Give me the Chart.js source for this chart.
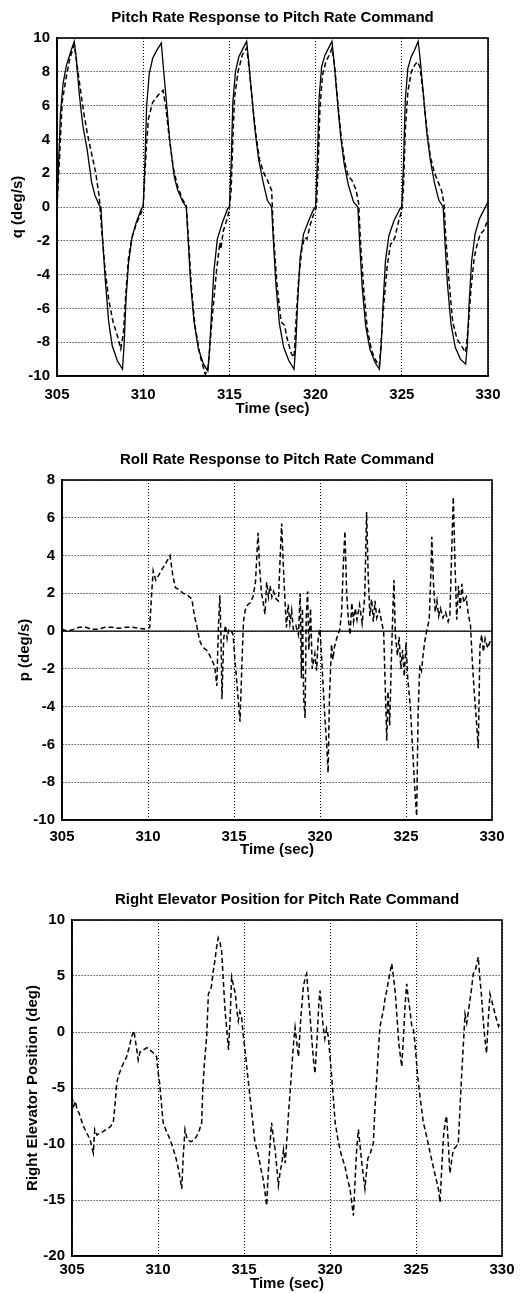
<!DOCTYPE html>
<html>
<head>
<meta charset="utf-8">
<script src="https://cdn.jsdelivr.net/npm/chart.js@4.4.1/dist/chart.umd.min.js"></script>
<style>
  body { margin: 0; background: #fff; width: 523px; height: 1293px; overflow: hidden; position: relative; }
  canvas { position: absolute; left: 0; }
</style>
</head>
<body>
<canvas id="pitch" width="523" height="430" style="top:0px"></canvas>
<canvas id="roll" width="523" height="440" style="top:430px"></canvas>
<canvas id="elev" width="523" height="423" style="top:870px"></canvas>
<script>
// tick labels
const timeTicks = [305, 310, 315, 320, 325, 330];
const qTicks = [-10, -8, -6, -4, -2, 0, 2, 4, 6, 8, 10];
const pTicks = [-10, -8, -6, -4, -2, 0, 2, 4, 6, 8];
const elevTicks = [-20, -15, -10, -5, 0, 5, 10];

// pitch rate q (deg/s), [time, value]
const qSolid = [
  [305.0,0.0],[305.1,2.8],[305.2,5.5],[305.35,7.3],[305.55,8.4],[305.8,9.2],[306.0,9.8],[306.1,9.0],[306.3,6.6],
  [306.5,4.8],[306.75,3.4],[307.0,1.5],[307.2,0.7],[307.45,0.1],[307.55,0.0],[307.65,-2.0],[307.8,-4.3],[308.0,-6.8],
  [308.2,-8.2],[308.5,-9.1],[308.8,-9.6],[308.9,-8.0],[309.0,-5.5],[309.15,-3.3],[309.35,-1.8],[309.6,-0.9],[309.9,-0.1],
  [310.0,0.0],[310.1,2.6],[310.2,6.0],[310.35,7.9],[310.55,8.8],[310.8,9.3],[311.05,9.7],[311.15,8.5],[311.35,6.2],
  [311.55,3.8],[311.8,1.8],[312.0,1.0],[312.3,0.3],[312.5,0.0],[312.6,-1.8],[312.75,-4.5],[312.95,-6.8],[313.2,-8.4],
  [313.5,-9.3],[313.75,-9.7],[313.85,-8.5],[313.95,-6.5],[314.1,-3.8],[314.3,-1.9],[314.6,-0.9],[314.9,-0.1],
  [315.0,0.0],[315.1,2.5],[315.2,6.2],[315.35,8.0],[315.55,8.9],[315.8,9.4],[316.0,9.8],[316.1,8.8],[316.3,6.6],
  [316.5,4.4],[316.7,2.8],[316.95,1.5],[317.2,0.4],[317.45,0.0],[317.55,-2.0],[317.7,-4.6],[317.9,-6.9],[318.15,-8.3],
  [318.45,-9.1],[318.75,-9.6],[318.85,-8.2],[318.95,-5.8],[319.1,-3.0],[319.3,-1.6],[319.6,-0.8],[319.9,-0.1],
  [320.0,0.0],[320.1,2.7],[320.2,6.4],[320.35,8.3],[320.55,9.0],[320.75,9.4],[320.95,9.8],[321.05,8.8],[321.25,6.5],
  [321.45,4.2],[321.65,2.6],[321.9,1.3],[322.2,0.3],[322.45,0.0],[322.55,-2.0],[322.7,-4.7],[322.9,-7.0],[323.15,-8.4],
  [323.45,-9.2],[323.7,-9.6],[323.8,-8.3],[323.9,-6.0],[324.05,-3.2],[324.25,-1.7],[324.55,-0.8],[324.9,-0.1],
  [325.0,0.0],[325.1,2.6],[325.2,6.3],[325.35,8.2],[325.55,8.9],[325.75,9.3],[325.95,9.8],[326.05,8.9],[326.25,6.7],
  [326.45,4.4],[326.65,2.8],[326.9,1.4],[327.15,0.4],[327.4,0.0],[327.5,-2.0],[327.65,-4.6],[327.85,-6.9],[328.1,-8.3],
  [328.4,-9.0],[328.7,-9.3],[328.8,-8.2],[328.9,-5.8],[329.05,-3.2],[329.25,-1.6],[329.5,-0.7],[329.8,-0.1],[330.0,0.3]
];
const qDashed = [
  [305.0,0.0],[305.15,3.0],[305.3,6.2],[305.5,7.5],[305.75,8.8],[306.0,9.6],[306.15,8.5],[306.35,7.0],[306.55,5.6],
  [306.75,4.4],[307.0,3.2],[307.25,2.0],[307.45,0.6],[307.6,-1.5],[307.8,-3.8],[308.0,-5.5],[308.25,-6.8],[308.5,-7.6],
  [308.7,-8.4],[308.85,-7.5],[309.0,-5.0],[309.15,-3.0],[309.35,-1.8],[309.6,-1.0],[309.9,-0.3],
  [310.0,0.0],[310.1,2.0],[310.2,3.8],[310.3,5.2],[310.55,6.2],[310.85,6.6],[311.15,6.9],[311.3,6.0],[311.5,4.2],
  [311.75,2.3],[312.0,1.2],[312.3,0.4],[312.5,0.1],[312.6,-1.5],[312.8,-4.8],[313.0,-7.0],[313.3,-8.8],[313.6,-9.9],
  [313.75,-9.6],[313.9,-7.8],[314.05,-6.0],[314.25,-3.8],[314.45,-2.1],[314.5,-2.5],[314.65,-1.4],[314.9,-0.6],
  [315.0,-0.1],[315.1,1.0],[315.2,4.0],[315.3,6.5],[315.5,8.0],[315.75,9.0],[316.0,9.4],[316.15,8.2],[316.35,6.0],
  [316.55,4.2],[316.75,2.8],[317.0,2.0],[317.2,1.6],[317.45,1.0],[317.55,-1.5],[317.75,-4.5],[318.0,-6.8],[318.2,-7.0],
  [318.35,-7.8],[318.6,-8.7],[318.75,-8.9],[318.85,-7.0],[319.0,-4.5],[319.2,-2.5],[319.35,-1.8],[319.5,-1.9],
  [319.7,-1.0],[319.9,-0.4],
  [320.05,0.0],[320.15,2.5],[320.25,5.8],[320.4,7.8],[320.6,8.6],[320.8,9.0],[320.95,9.4],[321.1,8.4],[321.3,6.0],
  [321.5,4.0],[321.7,2.6],[321.9,1.8],[322.1,1.6],[322.35,1.0],[322.5,0.2],[322.6,-2.0],[322.8,-5.0],[323.0,-7.2],
  [323.25,-8.5],[323.5,-9.1],[323.7,-9.4],[323.8,-8.0],[323.95,-5.8],[324.15,-3.5],[324.35,-2.2],[324.45,-2.1],
  [324.6,-1.8],[324.8,-0.9],
  [325.0,-0.2],[325.1,1.2],[325.2,4.5],[325.35,6.8],[325.55,8.0],[325.75,8.4],[325.9,8.6],[326.05,8.3],[326.25,6.6],
  [326.45,4.6],[326.65,3.0],[326.9,2.0],[327.1,1.5],[327.3,1.0],[327.45,0.2],[327.55,-1.8],[327.75,-4.5],[327.95,-6.8],
  [328.2,-7.8],[328.45,-8.2],[328.7,-8.6],[328.85,-7.2],[329.0,-5.0],[329.2,-3.0],[329.35,-2.3],[329.55,-1.6],
  [329.75,-1.4],[329.9,-1.0],[330.0,-0.8]
];

// roll rate p (deg/s)
const pZero = [[305, 0], [330, 0]];
const pDashed = [
  [305.0,0.1],[305.3,0.0],[305.7,0.1],[306.0,0.2],[306.4,0.2],[306.7,0.1],[307.1,0.1],[307.5,0.2],[307.9,0.2],
  [308.3,0.15],[308.7,0.2],[309.1,0.2],[309.5,0.15],[309.9,0.1],[310.1,0.2],[310.2,1.8],[310.3,3.2],[310.45,2.7],
  [310.65,3.0],[310.9,3.4],[311.1,3.7],[311.28,4.0],[311.45,2.9],[311.6,2.3],[311.8,2.2],[312.05,2.0],[312.3,1.9],
  [312.55,1.7],[312.7,0.8],[312.83,0.3],[313.0,-0.5],[313.1,-0.7],[313.25,-0.9],[313.4,-1.0],[313.6,-1.3],[313.8,-1.7],
  [313.9,-2.0],[314.0,-2.9],[314.1,0.4],[314.18,1.9],[314.25,-0.6],[314.3,-3.6],[314.4,-0.4],[314.5,0.3],[314.6,-0.4],
  [314.7,0.1],[314.85,0.0],[314.95,-0.2],[315.05,-1.5],[315.2,-3.1],[315.35,-4.8],[315.45,-2.0],[315.55,0.5],
  [315.65,1.1],[315.8,1.4],[315.95,1.5],[316.1,1.8],[316.25,2.6],[316.35,4.4],[316.4,5.2],[316.5,3.2],[316.6,2.0],
  [316.7,1.5],[316.8,0.9],[316.9,2.6],[317.0,1.8],[317.1,2.4],[317.2,1.8],[317.3,2.1],[317.45,1.7],[317.58,1.6],
  [317.68,3.8],[317.77,5.7],[317.87,3.4],[317.97,1.5],[318.05,0.2],[318.15,1.4],[318.25,0.4],[318.35,1.1],[318.45,0.1],
  [318.6,0.3],[318.75,-0.2],[318.85,2.0],[318.92,-2.5],[318.98,1.2],[319.05,-3.5],[319.13,-4.6],[319.2,0.8],
  [319.28,2.1],[319.35,-1.0],[319.45,1.2],[319.55,-2.0],[319.7,-1.2],[319.8,-2.1],[319.9,-0.3],[320.0,0.1],
  [320.1,-1.5],[320.2,-3.2],[320.3,-4.8],[320.4,-6.2],[320.47,-7.5],[320.55,-3.5],[320.67,-0.7],[320.75,-1.5],
  [320.85,-0.8],[321.0,-0.3],[321.15,0.1],[321.26,1.0],[321.35,3.4],[321.45,5.3],[321.55,2.0],[321.65,0.6],
  [321.75,-0.2],[321.85,1.5],[321.95,0.5],[322.05,1.2],[322.15,0.6],[322.3,1.4],[322.45,0.4],[322.6,1.8],[322.71,6.3],
  [322.8,3.0],[322.9,0.8],[323.0,1.7],[323.1,0.5],[323.2,1.6],[323.3,0.7],[323.45,1.1],[323.6,0.4],[323.7,0.0],
  [323.78,-2.5],[323.88,-5.8],[323.95,-3.2],[324.05,-5.0],[324.15,-1.5],[324.25,1.5],[324.3,2.7],[324.38,-0.2],
  [324.5,-1.3],[324.6,-0.3],[324.7,-2.0],[324.8,-1.0],[324.9,-2.4],[325.0,-0.6],[325.1,-2.5],[325.25,-4.0],
  [325.4,-6.5],[325.52,-8.5],[325.62,-9.8],[325.7,-4.5],[325.8,-1.8],[325.9,-2.1],[326.0,-1.2],[326.1,-0.5],
  [326.2,0.0],[326.35,0.6],[326.45,3.2],[326.5,5.0],[326.6,2.5],[326.7,1.0],[326.8,1.6],[326.9,0.8],[327.0,1.2],
  [327.15,0.7],[327.3,1.0],[327.45,0.5],[327.55,0.8],[327.65,4.0],[327.75,7.1],[327.85,3.5],[327.95,0.6],[328.05,2.4],
  [328.15,1.2],[328.25,2.5],[328.35,1.5],[328.5,1.8],[328.62,0.9],[328.75,0.3],[328.85,-1.5],[328.95,-3.0],
  [329.05,-4.2],[329.15,-5.5],[329.2,-6.2],[329.3,-0.8],[329.4,-0.2],[329.5,-1.1],[329.6,-0.4],[329.75,-0.9],
  [329.9,-0.5],[330.0,-0.4]
];

// right elevator position (deg)
const elevDashed = [
  [305.0,-5.8],[305.1,-6.6],[305.2,-6.2],[305.3,-7.0],[305.4,-7.2],[305.55,-7.9],[305.66,-8.4],[305.85,-9.0],
  [306.05,-9.6],[306.24,-10.8],[306.32,-8.7],[306.45,-9.2],[306.63,-9.0],[306.8,-8.9],[307.0,-8.7],[307.2,-8.5],
  [307.4,-8.1],[307.5,-6.5],[307.6,-4.6],[307.7,-3.9],[307.9,-3.1],[308.18,-2.2],[308.35,-1.2],[308.47,-0.4],
  [308.6,0.1],[308.7,-0.9],[308.85,-2.5],[308.95,-1.8],[309.15,-1.6],[309.35,-1.4],[309.53,-1.6],[309.75,-1.9],
  [309.92,-2.2],[310.0,-3.5],[310.1,-4.6],[310.2,-6.4],[310.3,-8.1],[310.5,-8.9],[310.7,-9.6],[310.9,-10.5],
  [311.05,-11.3],[311.2,-12.3],[311.3,-13.2],[311.38,-14.0],[311.47,-11.0],[311.57,-8.7],[311.7,-9.6],[311.9,-9.8],
  [312.05,-9.7],[312.25,-9.3],[312.4,-8.8],[312.54,-8.1],[312.6,-5.2],[312.7,-2.8],[312.83,-0.4],[312.93,3.4],
  [313.1,4.0],[313.2,5.3],[313.31,6.4],[313.4,7.5],[313.5,8.4],[313.6,8.0],[313.7,7.2],[313.8,4.5],[313.9,1.9],
  [314.0,0.2],[314.1,-1.6],[314.2,1.5],[314.28,4.9],[314.38,4.2],[314.5,3.4],[314.58,2.0],[314.67,1.0],[314.76,1.8],
  [314.86,1.3],[314.95,-0.2],[315.06,-1.6],[315.2,-3.7],[315.35,-5.8],[315.5,-7.9],[315.64,-9.9],[315.75,-10.5],
  [315.85,-11.1],[315.98,-12.2],[316.12,-13.2],[316.22,-14.3],[316.32,-15.5],[316.4,-12.8],[316.5,-10.3],
  [316.6,-8.1],[316.7,-9.3],[316.8,-10.4],[316.9,-12.0],[317.0,-13.7],[317.1,-12.5],[317.2,-11.7],[317.3,-10.5],
  [317.4,-11.7],[317.48,-9.9],[317.6,-7.0],[317.7,-5.0],[317.77,-3.4],[317.87,-1.2],[317.97,0.4],[318.07,-1.0],
  [318.17,-2.2],[318.3,1.2],[318.45,4.0],[318.55,4.8],[318.64,5.2],[318.74,3.3],[318.84,1.4],[318.95,-0.8],
  [319.04,-2.5],[319.13,-3.7],[319.25,-0.5],[319.35,2.5],[319.42,3.7],[319.52,2.0],[319.6,0.5],[319.7,-0.6],
  [319.8,0.3],[319.9,-0.4],[320.0,-2.2],[320.1,-4.0],[320.2,-6.0],[320.3,-8.1],[320.45,-9.5],[320.58,-10.5],
  [320.7,-11.2],[320.87,-12.0],[321.0,-13.0],[321.16,-14.0],[321.26,-15.2],[321.36,-16.4],[321.45,-13.5],
  [321.55,-10.5],[321.65,-8.7],[321.75,-10.2],[321.85,-11.7],[321.95,-13.0],[322.03,-14.0],[322.12,-12.5],
  [322.2,-11.3],[322.35,-10.8],[322.52,-9.9],[322.6,-7.2],[322.7,-4.6],[322.8,-2.0],[322.9,0.4],[323.0,1.2],
  [323.1,1.9],[323.2,3.0],[323.3,3.7],[323.45,5.0],[323.59,6.1],[323.7,4.8],[323.8,3.4],[323.9,1.2],[324.0,-1.0],
  [324.08,-2.0],[324.17,-3.1],[324.27,-0.5],[324.37,2.5],[324.46,4.3],[324.55,3.0],[324.65,1.9],[324.75,0.6],
  [324.85,0.2],[324.94,-1.0],[325.02,-2.5],[325.1,-4.0],[325.25,-6.0],[325.43,-8.1],[325.57,-9.0],[325.7,-9.9],
  [325.85,-11.0],[326.0,-12.0],[326.15,-13.0],[326.3,-14.0],[326.4,-15.2],[326.5,-12.0],[326.6,-9.3],[326.7,-8.0],
  [326.78,-7.5],[326.88,-10.0],[326.97,-12.6],[327.07,-11.5],[327.17,-10.5],[327.3,-10.3],[327.46,-9.9],
  [327.55,-7.0],[327.65,-4.0],[327.75,-1.2],[327.85,1.6],[327.95,0.8],[328.05,1.9],[328.2,3.5],[328.33,5.2],
  [328.45,5.5],[328.52,6.0],[328.62,6.7],[328.7,5.0],[328.8,3.4],[328.9,1.2],[329.0,-0.5],[329.1,-1.9],[329.2,1.0],
  [329.3,3.4],[329.45,2.5],[329.6,1.6],[329.7,1.0],[329.8,0.5],[329.9,0.8],[330.0,0.7]
];

const FONT = "'Liberation Sans', Arial, Helvetica, sans-serif";
const toXY = arr => arr.map(p => ({ x: p[0], y: p[1] }));

function solid(arr) {
  return { data: toXY(arr), borderColor: '#000', borderWidth: 1.3, pointRadius: 0, fill: false, tension: 0 };
}
function dashed(arr) {
  return { data: toXY(arr), borderColor: '#000', borderWidth: 1.5, borderDash: [5, 3], pointRadius: 0, fill: false, tension: 0 };
}

// box around the plot area
const framePlugin = {
  id: 'frame',
  afterDatasetsDraw(chart) {
    const a = chart.chartArea, ctx = chart.ctx;
    ctx.save();
    ctx.strokeStyle = '#000';
    ctx.lineWidth = 1.6;
    ctx.strokeRect(a.left, a.top, a.right - a.left, a.bottom - a.top);
    ctx.restore();
  }
};

function makePlot(id, cfg) {
  const font = { family: FONT, size: 15, weight: 'bold' };
  return new Chart(document.getElementById(id), {
    type: 'line',
    data: { datasets: cfg.datasets },
    options: {
      responsive: false,
      animation: false,
      layout: { padding: { left: 0, right: cfg.right, top: 0, bottom: 0 } },
      plugins: {
        legend: { display: false },
        tooltip: { enabled: false },
        title: {
          display: true, text: cfg.title, fullSize: false, color: '#000', font: font,
          padding: { top: cfg.titleTop, bottom: cfg.titleBottom }
        }
      },
      scales: {
        x: {
          type: 'linear', min: 305, max: 330,
          afterFit: s => { s.height = cfg.xHeight; },
          afterBuildTicks: s => { s.ticks = timeTicks.map(v => ({ value: v })); },
          grid: { color: '#000', lineWidth: 1, drawTicks: false },
          border: { display: true, color: '#000', width: 1.6, dash: [1, 2] },
          ticks: { color: '#000', font: font, padding: cfg.xTickPad, maxRotation: 0 },
          title: { display: true, text: 'Time (sec)', color: '#000', font: font, padding: { top: 0, bottom: cfg.xTitlePad } }
        },
        y: {
          type: 'linear', min: cfg.yTicks[0], max: cfg.yTicks[cfg.yTicks.length - 1],
          afterFit: s => { s.width = cfg.yWidth; },
          afterBuildTicks: s => { s.ticks = cfg.yTicks.map(v => ({ value: v })); },
          grid: { color: '#000', lineWidth: 1, drawTicks: false },
          border: { display: true, color: '#000', width: 1.6, dash: [1, 2] },
          ticks: { color: '#000', font: font, padding: 7 },
          title: { display: true, text: cfg.yLabel, color: '#000', font: font, padding: { top: cfg.yTitlePad, bottom: 0 } }
        }
      }
    },
    plugins: [framePlugin]
  });
}

makePlot('pitch', {
  title: 'Pitch Rate Response to Pitch Rate Command',
  yLabel: 'q (deg/s)', yTicks: qTicks,
  datasets: [solid(qSolid), dashed(qDashed)],
  right: 35, titleTop: 9, titleBottom: 11, xHeight: 54, xTickPad: 10, xTitlePad: 12, yWidth: 57, yTitlePad: 9
});

makePlot('roll', {
  title: 'Roll Rate Response to Pitch Rate Command',
  yLabel: 'p (deg/s)', yTicks: pTicks,
  datasets: [solid(pZero), dashed(pDashed)],
  right: 31, titleTop: 21, titleBottom: 11, xHeight: 50, xTickPad: 8, xTitlePad: 11, yWidth: 62, yTitlePad: 16
});

makePlot('elev', {
  title: 'Right Elevator Position for Pitch Rate Command',
  yLabel: 'Right Elevator Position (deg)', yTicks: elevTicks,
  datasets: [dashed(elevDashed)],
  right: 21, titleTop: 21, titleBottom: 11, xHeight: 37, xTickPad: 5, xTitlePad: 0, yWidth: 72, yTitlePad: 24
});
</script>
</body>
</html>
